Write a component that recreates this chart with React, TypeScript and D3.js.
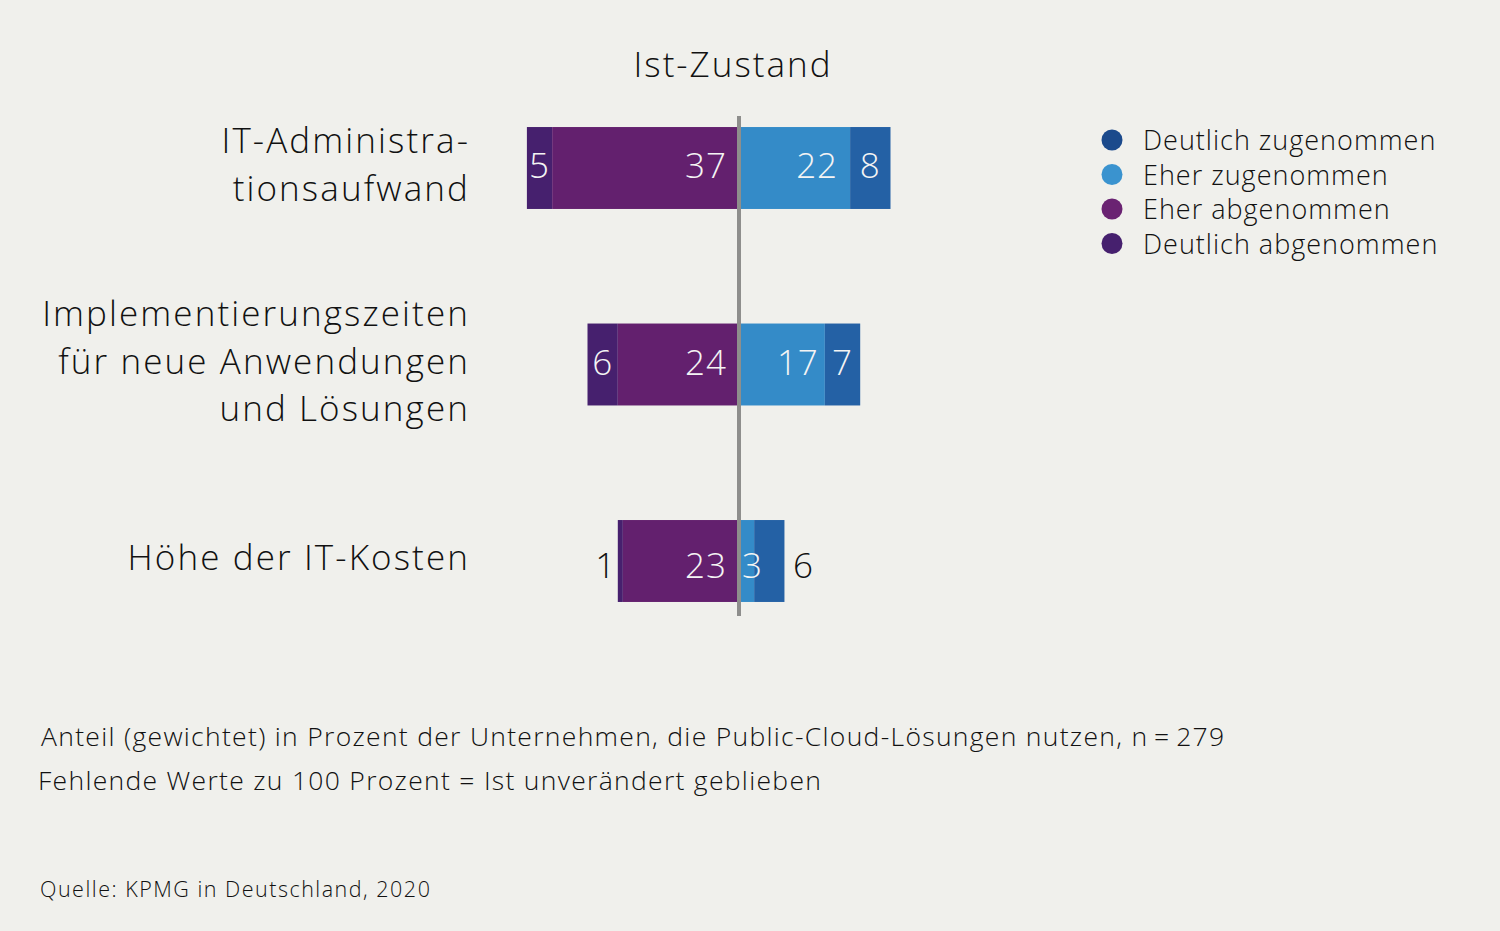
import React from 'react'
import * as d3 from 'd3'

// --- data ---
const categories = [
  ['IT-Administra-', 'tionsaufwand'],
  ['Implementierungszeiten', 'für neue Anwendungen', 'und Lösungen'],
  ['Höhe der IT-Kosten'],
]
const deutlichAbgenommen = [5, 6, 1]
const eherAbgenommen = [37, 24, 23]
const eherZugenommen = [22, 17, 3]
const deutlichZugenommen = [8, 7, 6]

const legendLabels = ['Deutlich zugenommen', 'Eher zugenommen', 'Eher abgenommen', 'Deutlich abgenommen']
const legendColors = ['#1b4a8c', '#3a93cf', '#6a2372', '#46206e']

const title = 'Ist-Zustand'
const noteLines = [
  'Anteil (gewichtet) in Prozent der Unternehmen, die Public-Cloud-Lösungen nutzen, n\u2009=\u2009279',
  'Fehlende Werte zu 100 Prozent = Ist unverändert geblieben',
]
const source = 'Quelle: KPMG in Deutschland, 2020'

// labels that sit outside their (too narrow) segment, by row|segment index
const outsideLabels = new Set(['2|0', '2|3'])
// small vertical nudges of the value labels per row
const valueShift = [0, 0, 7]

const W = 1500
const H = 931
const FONT = '"Open Sans", "Liberation Sans", sans-serif'
const BG = '#f0f0ec'

export default function App() {
  const keys = categories.map((c) => c.join(' '))
  const x = d3.scaleLinear().domain([-50, 50]).range([739 - 252.5, 739 + 252.5])
  const y = d3.scaleBand<string>()
    .domain(keys)
    .range([69.75, 659.25])
    .paddingInner(0.583)
    .paddingOuter(0.2915)

  const segColors = ['#46206e', '#63206e', '#348bc8', '#2461a5']

  const rows = keys.map((k, i) => {
    const da = deutlichAbgenommen[i]
    const ea = eherAbgenommen[i]
    const ez = eherZugenommen[i]
    const dz = deutlichZugenommen[i]
    const segs = [
      { v: da, x0: -(da + ea), x1: -ea },
      { v: ea, x0: -ea, x1: 0 },
      { v: ez, x0: 0, x1: ez },
      { v: dz, x0: ez, x1: ez + dz },
    ]
    return { k, i, segs }
  })

  return (
    <svg width={W} height={H} style={{ position: 'absolute', left: 0, top: 0, background: BG }} fontFamily={FONT}>
      <rect width={W} height={H} fill={BG} />
      <text x={733} y={77} textAnchor="middle" fontSize={35} fontWeight={300} fill="#111"
        letterSpacing={2}>{title}</text>

      {rows.map((r) => {
        const y0 = y(r.k)!
        const bh = y.bandwidth()
        const cy = y0 + bh / 2
        const lines = categories[r.i]
        return (
          <g key={r.k}>
            {lines.map((ln, j) => (
              <text key={j} x={470} y={cy + 9 + (j - (lines.length - 1) / 2) * 47.5}
                textAnchor="end" fontSize={35} fontWeight={300} fill="#111" letterSpacing={2.1}>{ln}</text>
            ))}
            {r.segs.map((s, j) => (
              <rect key={j} x={x(s.x0)} y={y0} width={x(s.x1) - x(s.x0)} height={bh} fill={segColors[j]} />
            ))}
            {r.segs.map((s, j) => {
              const a = x(s.x0)
              const b = x(s.x1)
              const w = b - a
              let tx: number
              let anchor: 'start' | 'middle' | 'end' = 'middle'
              let fill = '#f4f4f4'
              if (outsideLabels.has(`${r.i}|${j}`)) {
                fill = '#111'
                tx = j === 0 ? a - 12 : b + 19
              } else if (w > 60) {
                tx = b - (w > 100 ? 12 : 6)
                anchor = 'end'
              } else {
                tx = (a + b) / 2 + (w < 20 ? 6 : 0)
              }
              return (
                <text key={'t' + j} x={tx} y={cy + 10 + valueShift[r.i]} textAnchor={anchor} fontSize={35}
                  fontWeight={300} fill={fill} letterSpacing={1}>{s.v}</text>
              )
            })}
          </g>
        )
      })}

      <line x1={x(0)} x2={x(0)} y1={116} y2={616} stroke="#8e8e8c" strokeWidth={4} />

      {legendLabels.map((l, i) => (
        <g key={l} transform={`translate(1112, ${140 + i * 34.5})`}>
          <circle r={10.5} fill={legendColors[i]} />
          <text x={31} y={10} fontSize={27} fontWeight={300} fill="#111" letterSpacing={1}>{l}</text>
        </g>
      ))}

      {noteLines.map((l, i) => (
        <text key={i} x={i === 0 ? 41 : 38} y={746 + i * 44} fontSize={26.5} fontWeight={300} fill="#111"
          letterSpacing={1.3}>{l}</text>
      ))}
      <text x={40} y={897} fontSize={21.5} fontWeight={300} fill="#111" letterSpacing={1.5}>{source}</text>
    </svg>
  )
}
